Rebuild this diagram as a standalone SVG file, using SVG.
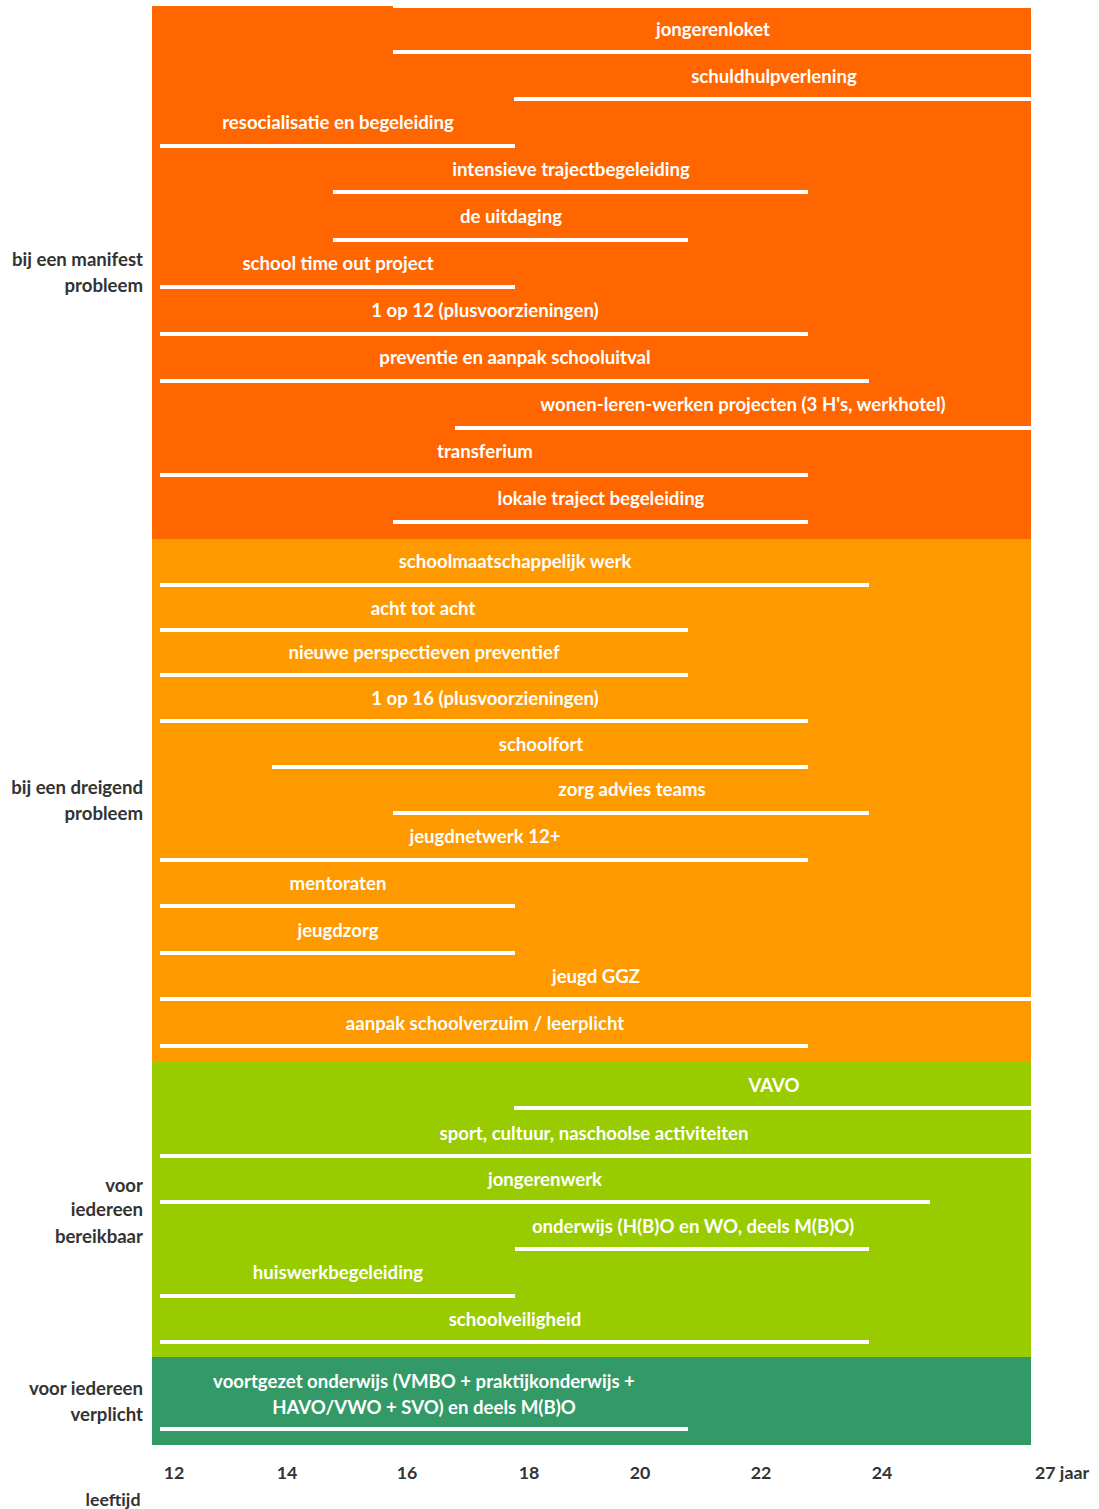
<svg xmlns="http://www.w3.org/2000/svg" width="1099" height="1509" viewBox="0 0 1099 1509">
<style>
.bar{font-family:Lato,"Open Sans","Liberation Sans",sans-serif;font-weight:bold;font-size:18.6px;fill:#ffffff;text-anchor:middle}
.cat{font-family:Lato,"Open Sans","Liberation Sans",sans-serif;font-weight:bold;font-size:18.6px;fill:#333333;text-anchor:end}
.ax{font-family:Lato,"Open Sans","Liberation Sans",sans-serif;font-weight:bold;font-size:17.8px;fill:#333333;text-anchor:middle}
.ln{fill:#ffffff}
</style>
<rect width="1099" height="1509" fill="#ffffff"/>
<g id="bands">
<rect x="152" y="6" width="241" height="534" fill="#FF6600"/>
<rect x="393" y="8" width="638" height="532" fill="#FF6600"/>
<rect x="152" y="539" width="879" height="524" fill="#FF9900"/>
<rect x="152" y="1062" width="879" height="296" fill="#99CC00"/>
<rect x="152" y="1357" width="879" height="88" fill="#339966"/>
</g>
<g id="categories">
<text class="cat" x="143" y="266">bij een manifest</text>
<text class="cat" x="143" y="292">probleem</text>
<text class="cat" x="143" y="794">bij een dreigend</text>
<text class="cat" x="143" y="820">probleem</text>
<text class="cat" x="143" y="1192">voor</text>
<text class="cat" x="143" y="1216">iedereen</text>
<text class="cat" x="143" y="1243">bereikbaar</text>
<text class="cat" x="143" y="1395">voor iedereen</text>
<text class="cat" x="143" y="1421">verplicht</text>
</g>
<g id="connectors">
<rect class="ln" x="393" y="50" width="638" height="4"/>
<rect class="ln" x="514" y="97" width="517" height="4"/>
<rect class="ln" x="160" y="144" width="355" height="4"/>
<rect class="ln" x="333" y="190" width="475" height="4"/>
<rect class="ln" x="333" y="238" width="355" height="4"/>
<rect class="ln" x="160" y="285" width="355" height="4"/>
<rect class="ln" x="160" y="332" width="648" height="4"/>
<rect class="ln" x="160" y="379" width="709" height="4"/>
<rect class="ln" x="455" y="426" width="576" height="4"/>
<rect class="ln" x="160" y="473" width="648" height="4"/>
<rect class="ln" x="393" y="520" width="415" height="4"/>
<rect class="ln" x="160" y="583" width="709" height="4"/>
<rect class="ln" x="160" y="628" width="528" height="4"/>
<rect class="ln" x="160" y="673" width="528" height="4"/>
<rect class="ln" x="160" y="719" width="648" height="4"/>
<rect class="ln" x="272" y="765" width="536" height="4"/>
<rect class="ln" x="393" y="811" width="476" height="4"/>
<rect class="ln" x="160" y="858" width="648" height="4"/>
<rect class="ln" x="160" y="904" width="355" height="4"/>
<rect class="ln" x="160" y="951" width="355" height="4"/>
<rect class="ln" x="160" y="997" width="871" height="4"/>
<rect class="ln" x="160" y="1044" width="648" height="4"/>
<rect class="ln" x="514" y="1106" width="517" height="4"/>
<rect class="ln" x="160" y="1154" width="871" height="4"/>
<rect class="ln" x="160" y="1200" width="770" height="4"/>
<rect class="ln" x="515" y="1247" width="354" height="4"/>
<rect class="ln" x="160" y="1294" width="355" height="4"/>
<rect class="ln" x="160" y="1340" width="709" height="4"/>
<rect class="ln" x="160" y="1427" width="528" height="4"/>
</g>
<g id="n-jongerenloket"><text class="bar" x="713" y="36">jongerenloket</text></g>
<g id="n-schuldhulpverlening"><text class="bar" x="774" y="83">schuldhulpverlening</text></g>
<g id="n-resocialisatie"><text class="bar" x="338" y="129">resocialisatie en begeleiding</text></g>
<g id="n-intensieve"><text class="bar" x="571" y="176">intensieve trajectbegeleiding</text></g>
<g id="n-uitdaging"><text class="bar" x="511" y="223">de uitdaging</text></g>
<g id="n-timeout"><text class="bar" x="338" y="270">school time out project</text></g>
<g id="n-1op12"><text class="bar" x="485" y="317">1 op 12 (plusvoorzieningen)</text></g>
<g id="n-preventie"><text class="bar" x="515" y="364">preventie en aanpak schooluitval</text></g>
<g id="n-wonen"><text class="bar" x="743" y="411">wonen-leren-werken projecten (3 H's, werkhotel)</text></g>
<g id="n-transferium"><text class="bar" x="485" y="458">transferium</text></g>
<g id="n-lokale"><text class="bar" x="601" y="505">lokale traject begeleiding</text></g>
<g id="n-smw"><text class="bar" x="515" y="568">schoolmaatschappelijk werk</text></g>
<g id="n-achttotacht"><text class="bar" x="423" y="615">acht tot acht</text></g>
<g id="n-nieuwe"><text class="bar" x="424" y="659">nieuwe perspectieven preventief</text></g>
<g id="n-1op16"><text class="bar" x="485" y="705">1 op 16 (plusvoorzieningen)</text></g>
<g id="n-schoolfort"><text class="bar" x="541" y="751">schoolfort</text></g>
<g id="n-zat"><text class="bar" x="632" y="796">zorg advies teams</text></g>
<g id="n-jeugdnetwerk"><text class="bar" x="485" y="843">jeugdnetwerk 12+</text></g>
<g id="n-mentoraten"><text class="bar" x="338" y="890">mentoraten</text></g>
<g id="n-jeugdzorg"><text class="bar" x="338" y="937">jeugdzorg</text></g>
<g id="n-ggz"><text class="bar" x="596" y="983">jeugd GGZ</text></g>
<g id="n-verzuim"><text class="bar" x="485" y="1030">aanpak schoolverzuim / leerplicht</text></g>
<g id="n-vavo"><text class="bar" x="774" y="1092">VAVO</text></g>
<g id="n-sport"><text class="bar" x="594" y="1140">sport, cultuur, naschoolse activiteiten</text></g>
<g id="n-jongerenwerk"><text class="bar" x="545" y="1186">jongerenwerk</text></g>
<g id="n-onderwijs"><text class="bar" x="693" y="1233">onderwijs (H(B)O en WO, deels M(B)O)</text></g>
<g id="n-huiswerk"><text class="bar" x="338" y="1279">huiswerkbegeleiding</text></g>
<g id="n-veiligheid"><text class="bar" x="515" y="1326">schoolveiligheid</text></g>
<g id="n-vo"><text class="bar" x="424" y="1388">voortgezet onderwijs (VMBO + praktijkonderwijs +</text><text class="bar" x="424" y="1414">HAVO/VWO + SVO) en deels M(B)O</text></g>
<g id="axis">
<text class="ax" x="174" y="1479">12</text>
<text class="ax" x="287" y="1479">14</text>
<text class="ax" x="407" y="1479">16</text>
<text class="ax" x="529" y="1479">18</text>
<text class="ax" x="640" y="1479">20</text>
<text class="ax" x="761" y="1479">22</text>
<text class="ax" x="882" y="1479">24</text>
<text class="ax" x="1062" y="1479">27 jaar</text>
<text class="ax" x="113" y="1506">leeftijd</text>
</g>
</svg>
